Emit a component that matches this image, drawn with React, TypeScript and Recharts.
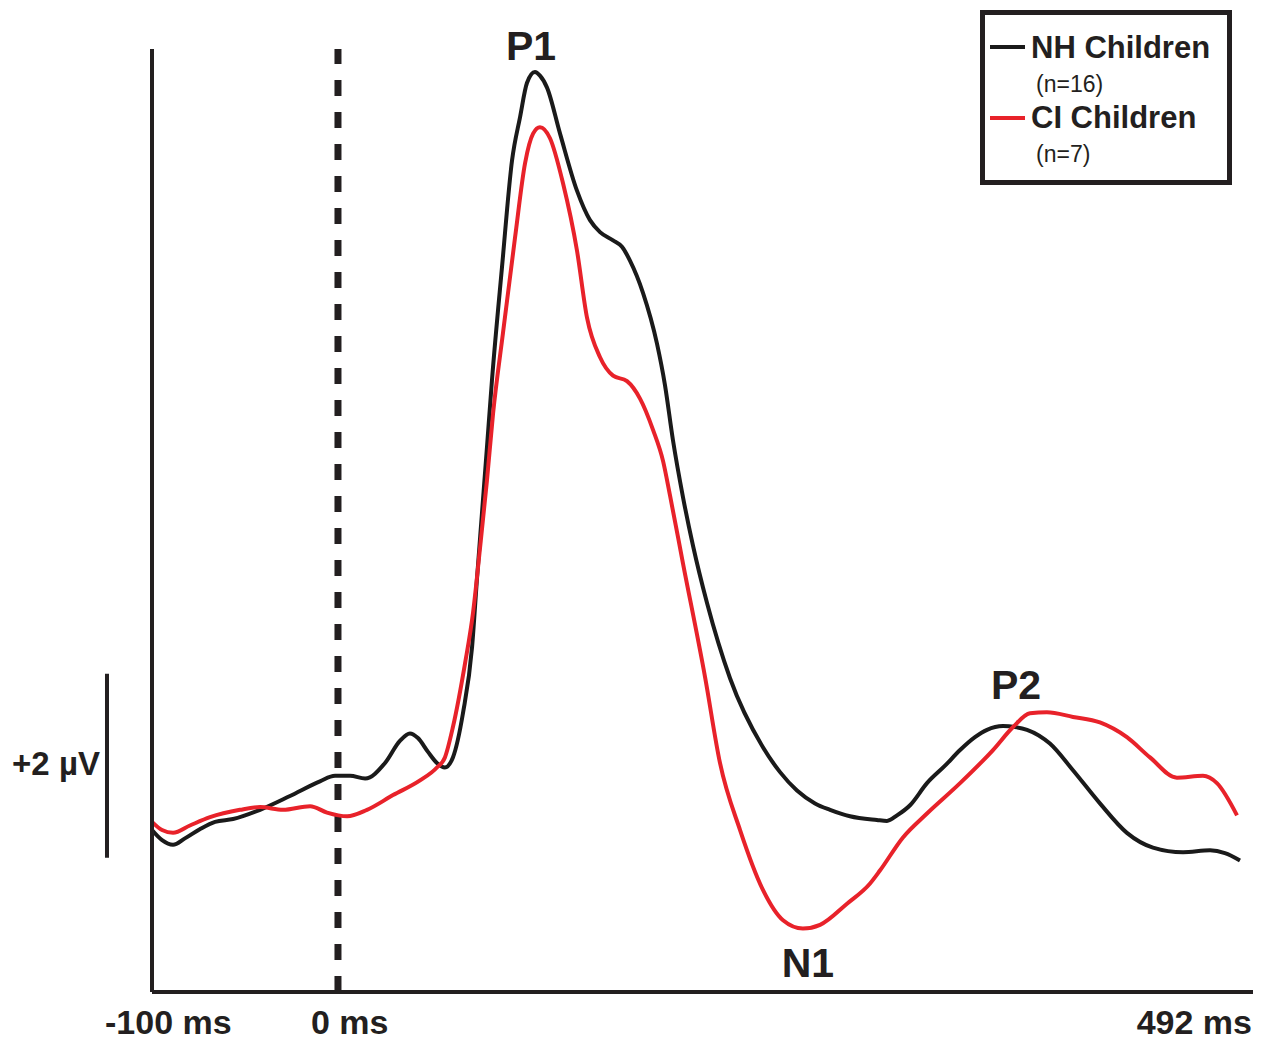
import { LineChart, Line, XAxis, YAxis, ReferenceLine, ReferenceDot } from 'recharts'

// time in ms, amplitude in µV
const nhTime = [
  -100, -94.6, -88.7, -82.3, -74.3, -66.1, -56.4, -41.9, -25.8, -9.7, -1.6, 6.5, 14.6, 25.3, 33.3, 38.7, 43.0,
  48.4, 53.2, 57.5, 61.8, 67.2, 72.1, 74.7, 77.4, 80.1, 82.8, 88.2, 93.6, 97.9, 101.6, 105.9, 108.6, 112.4,
  119.4, 128.5, 135.5, 140.9, 147.9, 152.7, 157.0, 164.0, 171.5, 175.8, 180.1, 185.5, 190.9, 198.4, 210.8,
  228.5, 237.7, 246.8, 256.5, 264.6, 275.3, 289.8, 295.2, 300.6, 307.6, 316.7, 326.4, 334.5, 342.5, 349.0,
  357.6, 364.0, 370.5, 382.8, 395.2, 409.7, 424.2, 438.2, 454.4, 468.9, 476.9, 485.0,
]
const nhAmp = [
  -0.02, -0.13, -0.18, -0.11, -0.01, 0.07, 0.1, 0.2, 0.35, 0.51, 0.57, 0.57, 0.54, 0.71, 0.95, 1.03, 0.98,
  0.83, 0.71, 0.66, 0.77, 1.25, 1.97, 2.7, 3.42, 4.14, 4.87, 6.1, 7.26, 7.73, 8.1, 8.22, 8.18, 8.05,
  7.55, 6.93, 6.61, 6.48, 6.39, 6.32, 6.17, 5.82, 5.27, 4.82, 4.22, 3.6, 3.07, 2.45, 1.63,
  0.88, 0.61, 0.41, 0.27, 0.2, 0.13, 0.09, 0.08, 0.14, 0.25, 0.49, 0.68, 0.85, 0.99, 1.07,
  1.11, 1.1, 1.07, 0.92, 0.63, 0.27, -0.05, -0.21, -0.26, -0.24, -0.27, -0.35,
]

const ciTime = [
  -100, -94.6, -88.7, -79.6, -68.8, -52.7, -41.9, -29.6, -15.0, -5.9, 4.9, 15.6, 29.6, 44.1, 53.2, 57.5,
  61.8, 68.3, 72.6, 76.4, 80.1, 83.4, 88.7, 95.2, 100.6, 104.9, 108.6, 114.0, 121.0, 128.5, 133.9, 140.9,
  147.9, 155.4, 162.4, 169.4, 174.8, 178.5, 185.5, 197.4, 205.4, 216.2, 228.5, 239.3, 250.0, 259.2, 273.7,
  286.1, 291.4, 303.8, 316.7, 334.5, 352.2, 363.0, 372.1, 381.2, 395.2, 409.7, 424.2, 436.6, 451.1, 465.1,
  472.6, 483.4,
]
const ciAmp = [
  0.07, -0.02, -0.05, 0.03, 0.12, 0.2, 0.23, 0.2, 0.24, 0.17, 0.13, 0.2, 0.36, 0.52, 0.66, 0.77,
  1.1, 1.79, 2.34, 3.05, 3.78, 4.51, 5.38, 6.42, 7.23, 7.55, 7.62, 7.5, 7.01, 6.28, 5.55, 5.12,
  4.92, 4.86, 4.67, 4.33, 3.99, 3.62, 2.88, 1.64, 0.71, -0.02, -0.67, -1.0, -1.09, -1.05, -0.82,
  -0.6, -0.46, -0.1, 0.16, 0.49, 0.85, 1.1, 1.25, 1.26, 1.21, 1.15, 0.99, 0.77, 0.55, 0.57,
  0.49, 0.14,
]

const seriesNames = ['NH Children', 'CI Children']
const seriesCounts = ['(n=16)', '(n=7)']
const seriesColors = ['#1a1a1a', '#e8222a']

const xTicks = [-100, 0, 492]
const xTickLabels = ['-100 ms', '0 ms', '492 ms']

const peakNames = ['P1', 'N1', 'P2']
const peakTimes = [103.8, 252.7, 364.6]
const peakAmps = [8.35, -1.62, 1.41]

// 2 µV calibration bar
const barTime = -124.2
const barFrom = -0.32
const barTo = 1.68
const barLabel = '+2 µV'
const barLabelTime = -128
const barLabelAmp = 0.58

const nhData = nhTime.map((t, i) => ({ t, v: nhAmp[i] }))
const ciData = ciTime.map((t, i) => ({ t, v: ciAmp[i] }))

const ink = '#231f20'
const font = '"Liberation Sans", Arial, Helvetica, sans-serif'

const tickPlacement: Record<number, { dx: number; anchor: 'start' | 'middle' | 'end' }> = {
  [-100]: { dx: -47, anchor: 'start' },
  [0]: { dx: -27, anchor: 'start' },
  [492]: { dx: 3, anchor: 'end' },
}

function TimeTick(props: any) {
  const { x, y, payload } = props
  const idx = xTicks.indexOf(payload.value)
  const p = tickPlacement[payload.value] || { dx: 0, anchor: 'middle' }
  return (
    <text x={x + p.dx} y={y + 42} textAnchor={p.anchor} fontFamily={font} fontWeight="bold" fontSize={34} fill={ink}>
      {xTickLabels[idx]}
    </text>
  )
}

function textShape(label: string, size: number, anchor: 'middle' | 'end') {
  return (props: any) => (
    <text x={props.cx} y={props.cy} textAnchor={anchor} fontFamily={font} fontWeight="bold" fontSize={size} fill={ink}>
      {label}
    </text>
  )
}

function LegendBox() {
  return (
    <svg width={260} height={190} style={{ position: 'absolute', left: 975, top: 5 }}>
      <rect x={7.5} y={7.5} width={247} height={170} fill="#fff" stroke={ink} strokeWidth={5} />
      {seriesNames.map((name, i) => (
        <g key={name}>
          <line x1={15} x2={50} y1={42 + i * 71} y2={42 + i * 71} stroke={seriesColors[i]} strokeWidth={4} />
          <text x={56} y={53 + i * 70} fontFamily={font} fontWeight="bold" fontSize={31} fill={ink}>
            {name}
          </text>
          <text x={61} y={87 + i * 70} fontFamily={font} fontSize={23} fill={ink}>
            {seriesCounts[i]}
          </text>
        </g>
      ))}
    </svg>
  )
}

export default function App() {
  return (
    <div style={{ position: 'absolute', left: 0, top: 0, width: 1261, height: 1040, background: '#fff' }}>
      <LineChart width={1261} height={1040} margin={{ top: 49, right: 8, bottom: 0, left: 150 }}>
        <XAxis
          type="number"
          dataKey="t"
          domain={[-100, 492]}
          ticks={xTicks}
          allowDataOverflow
          height={48}
          tickLine={false}
          tickSize={0}
          tickMargin={0}
          axisLine={{ stroke: ink, strokeWidth: 4 }}
          tick={<TimeTick />}
        />
        <YAxis
          type="number"
          domain={[-1.78, 8.47]}
          allowDataOverflow
          width={2}
          tick={false}
          tickLine={false}
          axisLine={{ stroke: ink, strokeWidth: 4 }}
        />
        <ReferenceLine x={0} stroke={ink} strokeWidth={7} strokeDasharray="16 16" />
        <ReferenceLine
          segment={[{ x: barTime, y: barFrom }, { x: barTime, y: barTo }]}
          stroke={ink}
          strokeWidth={4}
          ifOverflow="visible"
        />
        <ReferenceDot
          x={barLabelTime}
          y={barLabelAmp}
          r={0}
          ifOverflow="visible"
          shape={textShape(barLabel, 33, 'end')}
        />
        <Line
          data={nhData}
          dataKey="v"
          name={seriesNames[0]}
          type="monotone"
          stroke={seriesColors[0]}
          strokeWidth={4}
          dot={false}
          isAnimationActive={false}
        />
        <Line
          data={ciData}
          dataKey="v"
          name={seriesNames[1]}
          type="monotone"
          stroke={seriesColors[1]}
          strokeWidth={4}
          dot={false}
          isAnimationActive={false}
        />
        {peakNames.map((p, i) => (
          <ReferenceDot
            key={p}
            x={peakTimes[i]}
            y={peakAmps[i]}
            r={0}
            ifOverflow="visible"
            shape={textShape(p, 41, 'middle')}
          />
        ))}
      </LineChart>
      <LegendBox />
    </div>
  )
}
